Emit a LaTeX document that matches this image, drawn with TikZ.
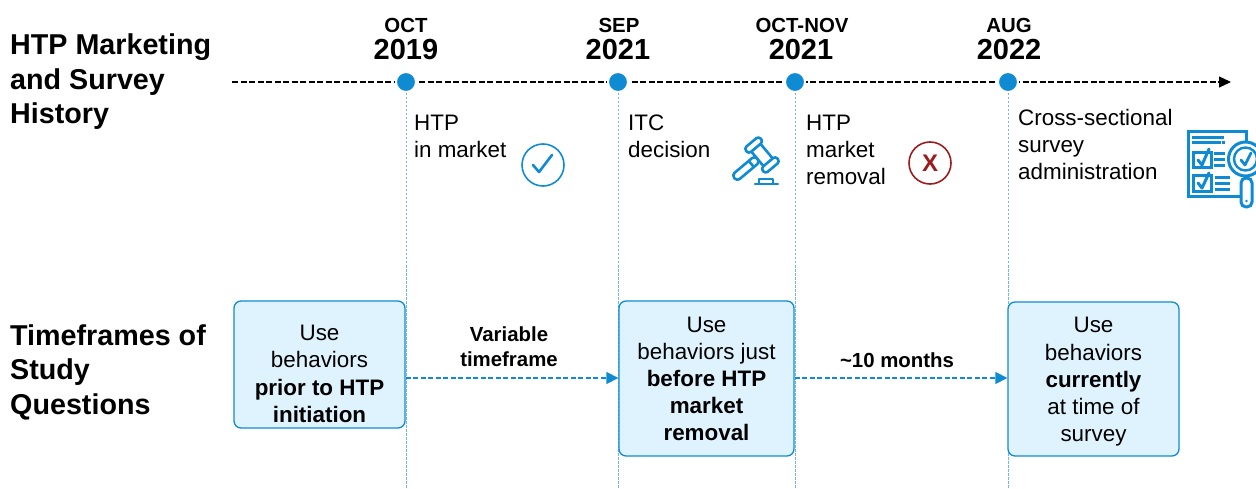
\documentclass[tikz,border=0pt]{standalone}
\usepackage{fontspec}
\setmainfont{Liberation Sans}
\usetikzlibrary{arrows.meta}
\definecolor{hblue}{HTML}{0F8BD3}
\definecolor{hline}{HTML}{6DB9E4}
\definecolor{hfill}{HTML}{DFF3FE}
\definecolor{hred}{HTML}{9B1C1F}
\tikzset{
  x=1pt,y=-1pt,
  heading/.style={font=\fontsize{28.7}{34.5}\selectfont\bfseries,align=left,anchor=north west,inner sep=0pt},
  month/.style={font=\fontsize{20.4}{24}\selectfont\bfseries,inner sep=0pt},
  yeartxt/.style={font=\fontsize{29}{32}\selectfont\bfseries,inner sep=0pt},
  body/.style={font=\fontsize{22.4}{27}\selectfont,align=left,anchor=north west,inner sep=0pt},
  boxshape/.style={draw=hblue,line width=1.3pt,fill=hfill,rounded corners=7pt,inner sep=0pt},
  boxtxt/.style={font=\fontsize{22.4}{27.2}\selectfont,align=center,inner sep=0pt},
  lbl/.style={font=\fontsize{20.4}{25}\selectfont\bfseries,align=center,inner sep=0pt},
  dot/.style={circle,fill=hblue,draw=white,line width=2pt,minimum size=20pt,inner sep=0pt},
  guide/.style={draw=hline,line width=0.8pt,dash pattern=on 2.5pt off 1.5pt},
  timeline/.style={draw=black,line width=1.3pt,dash pattern=on 6pt off 2.5pt},
  flow/.style={draw=hblue,line width=1.3pt,dash pattern=on 5pt off 2.5pt},
}
\begin{document}
\begin{tikzpicture}
\useasboundingbox (0,0) rectangle (1256,489);
\coordinate (tstart) at (232,82);
\coordinate (tend) at (1231,82);
\coordinate (g1end) at (406,488);
\coordinate (g2end) at (618,488);
\coordinate (g3end) at (795,488);
\coordinate (g4end) at (1008,488);
\draw[timeline,-{Triangle[length=12pt,width=11pt]}] (tstart) -- (tend);
\node[dot] (d1) at (406,82) {};
\node[dot] (d2) at (618,82) {};
\node[dot] (d3) at (795,82) {};
\node[dot] (d4) at (1008,82) {};
\draw[guide] (d1) -- (g1end);
\draw[guide] (d2) -- (g2end);
\draw[guide] (d3) -- (g3end);
\draw[guide] (d4) -- (g4end);
% headings
\node[heading] (h1) at (10,34) {HTP Marketing\\and Survey\\History};
\node[heading] (h2) at (10,324.5) {Timeframes of\\Study\\Questions};
% dates
\node[month] (m1) at (406,25) {OCT};
\node[yeartxt] (y1) at (406,50) {2019};
\node[month] (m2) at (619,25) {SEP};
\node[yeartxt] (y2) at (618,50) {2021};
\node[month] (m3) at (802,25) {OCT-NOV};
\node[yeartxt] (y3) at (801,50) {2021};
\node[month] (m4) at (1009,25) {AUG};
\node[yeartxt] (y4) at (1009,50) {2022};
% event text
\node[body] (e1) at (414,115) {HTP\\in market};
\node[body] (e2) at (628,115) {ITC\\decision};
\node[body] (e3) at (806,115) {HTP\\market\\removal};
\node[body] (e4) at (1018,109) {Cross-sectional\\survey\\administration};
% check icon
\node[circle,draw=hblue,line width=1.6pt,minimum size=42pt,inner sep=0pt] (ck) at (543,165) {};
\draw[hblue,line width=2.6pt,line cap=round,line join=round] (533,165) -- (539,172) -- (552,155);
% x icon
\node[circle,draw=hred,line width=1.6pt,minimum size=42pt,inner sep=0pt,text=hred,font=\fontsize{24}{24}\selectfont\bfseries] (xk) at (930,163) {X};
% gavel icon
\begin{scope}[shift={(762,155)},rotate=-50,hblue,line width=2.6pt,line join=round]
  \draw[fill=white,rounded corners=3.5pt] (-4,6) rectangle (4,36);
  \draw (-4,14) -- (4,14);
  \draw[fill=white] (-10,-6) rectangle (10,6);
  \draw[fill=white,rounded corners=3pt] (-16.5,-9.5) rectangle (-9.5,9.5);
  \draw[fill=white,rounded corners=3pt] (9.5,-9.5) rectangle (16.5,9.5);
\end{scope}
\begin{scope}[hblue,line width=2.6pt,line join=round]
  \draw[line cap=round] (755,184) -- (778,184);
  \draw (759,183) -- (759,179) -- (773,179) -- (773,183);
\end{scope}
% survey icon
\begin{scope}[hblue,line width=3pt]
  \draw[fill=white] (1188.5,131.5) rectangle (1246,197);
  \fill (1192,136) rectangle (1224,139);
  \fill (1192,141) rectangle (1221,144);
  \fill (1222,141) rectangle (1225,144);
  \draw (1193,153) rectangle (1211,168);
  \draw (1193,176) rectangle (1211,192);
  \draw[line width=3pt,line cap=round,line join=round] (1198,160) -- (1202,165) -- (1209,149);
  \draw[line width=3pt,line cap=round,line join=round] (1198,183) -- (1202,188) -- (1209,173);
  \fill (1214,152) rectangle (1225,155);
  \fill (1214,158) rectangle (1225,161);
  \fill (1214,164) rectangle (1225,167);
  \fill (1215,176) rectangle (1230,179);
  \fill (1215,182) rectangle (1230,185);
  \fill (1215,188) rectangle (1230,191);
  \draw[fill=white,rounded corners=5pt] (1241,178) rectangle (1252,207);
  \fill (1246.5,201) circle (1.4);
  \draw[fill=white] (1245.5,159) circle (17);
  \draw[line width=2.4pt] (1245.5,159) circle (11.5);
  \draw[line width=2.8pt,line cap=round,line join=round] (1241,160) -- (1245,165) -- (1251,153);
\end{scope}
% boxes
\node[boxshape,minimum width=171pt,minimum height=127pt] (a) at (319.5,364.5) {};
\node[boxshape,minimum width=175pt,minimum height=155pt] (b) at (706.5,378.5) {};
\node[boxshape,minimum width=171pt,minimum height=154pt] (c) at (1093.5,379) {};
\node[boxtxt] (at) at (319.5,374) {Use\\behaviors\\\textbf{prior to HTP}\\\textbf{initiation}};
\node[boxtxt] (bt) at (706.5,379) {Use\\behaviors just\\\textbf{before HTP}\\\textbf{market}\\\textbf{removal}};
\node[boxtxt] (ct) at (1093.5,382) {Use\\behaviors\\\textbf{currently}\\at time of\\survey};
% flow arrows
\coordinate (ry) at (0,378);
\draw[flow,-{Triangle[length=12pt,width=12pt]}] (a.east |- ry) -- (b.west |- ry);
\draw[flow,-{Triangle[length=12pt,width=12pt]}] (b.east |- ry) -- (c.west |- ry);
\node[lbl] (l1) at (509,347) {Variable\\timeframe};
\node[lbl] (l2) at (897,360) {\textasciitilde10 months};
\end{tikzpicture}
\end{document}
